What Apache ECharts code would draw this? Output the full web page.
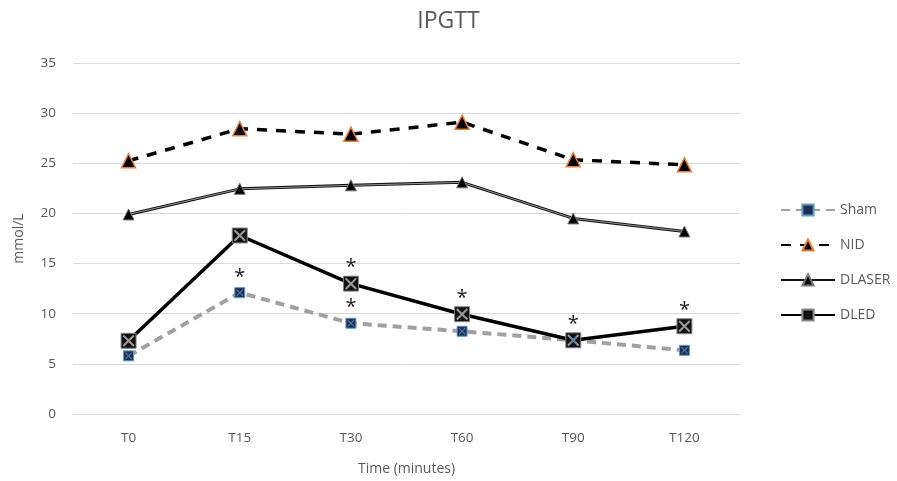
<!DOCTYPE html>
<html><head><meta charset="utf-8">
<script src="https://cdn.jsdelivr.net/npm/echarts@6/dist/echarts.min.js"></script>
<style>html,body{margin:0;padding:0;background:#fff}#c{width:897px;height:481px}</style>
</head><body><div id="c"></div>
<script>
const categories = ['T0','T15','T30','T60','T90','T120'];
const sham   = [5.8, 12.1, 9.05, 8.25, 7.35, 6.35];
const nid    = [25.25, 28.45, 27.9, 29.1, 25.35, 24.85];
const dlaser = [19.9, 22.45, 22.8, 23.1, 19.5, 18.2];
const dled   = [7.3, 17.8, 13.0, 9.95, 7.35, 8.75];
// significance markers (1 = asterisk above the point)
const shamStar = [0, 1, 1, 0, 0, 0];
const dledStar = [0, 0, 1, 1, 1, 1];
const yTicks = {min: 0, max: 35, interval: 5};

const FONT = 'Open Sans';
const TXT = '#595959';
const xPath = 'path://M0,1.2 L1.2,0 L10,8.8 L8.8,10 Z M8.8,0 L10,1.2 L1.2,10 L0,8.8 Z';

function withStars(vals, stars, dist) {
  return vals.map((v, i) => stars[i] ? {value: v, label: {show: true, formatter: '*', position: 'top', distance: dist, fontSize: 20, color: '#222', fontFamily: FONT}} : v);
}

const chart = echarts.init(document.getElementById('c'), null, {renderer: 'canvas'});
chart.setOption({
  animation: false,
  textStyle: {fontFamily: FONT},
  title: {text: 'IPGTT', left: 'center', top: 5, textStyle: {fontSize: 23, fontWeight: 'normal', color: TXT, fontFamily: FONT}},
  grid: {left: 73, right: 157, top: 63, bottom: 66},
  legend: {
    orient: 'vertical', left: 775, top: 198, itemGap: 21, itemWidth: 54, itemHeight: 14,
    data: ['Sham','NID','DLASER','DLED'],
    textStyle: {fontSize: 14, color: TXT, fontFamily: FONT}
  },
  xAxis: {
    type: 'category', data: categories, boundaryGap: true,
    name: 'Time (minutes)', nameLocation: 'middle', nameGap: 48,
    nameTextStyle: {fontSize: 14, color: TXT, fontFamily: FONT},
    axisLine: {lineStyle: {color: '#d9d9d9'}}, axisTick: {show: false},
    axisLabel: {fontSize: 13.5, color: TXT, margin: 17, fontFamily: FONT}
  },
  yAxis: {
    type: 'value', min: yTicks.min, max: yTicks.max, interval: yTicks.interval,
    name: 'mmol/L', nameLocation: 'middle', nameGap: 47, nameRotate: 90,
    nameTextStyle: {fontSize: 14, color: TXT, fontFamily: FONT},
    axisLine: {show: false}, axisTick: {show: false},
    axisLabel: {fontSize: 13.5, color: TXT, margin: 17, fontFamily: FONT},
    splitLine: {lineStyle: {color: '#d9d9d9', width: 1}}
  },
  series: [
    {name: 'Sham', type: 'line', data: withStars(sham, shamStar, 0),
     lineStyle: {color: '#a0a0a0', width: 4, type: [9, 6]},
     symbol: 'rect', symbolSize: 10, showAllSymbol: true,
     itemStyle: {color: '#1f3050', borderColor: '#5b9bd5', borderWidth: 1}, z: 2},
    {name: 'NID', type: 'line', data: nid,
     lineStyle: {color: '#000', width: 3.5, type: [10, 9]},
     symbol: 'triangle', symbolSize: 14,
     itemStyle: {color: '#000', borderColor: '#ed7d31', borderWidth: 1.5}, z: 2},
    {name: 'DLASER', type: 'line', data: dlaser,
     lineStyle: {color: '#111', width: 3},
     symbol: 'triangle', symbolSize: 11,
     itemStyle: {color: '#000', borderColor: '#777', borderWidth: 1}, z: 2},
    {name: 'DLASER_inner', type: 'line', data: dlaser, silent: true,
     lineStyle: {color: '#bbb', width: 0.8}, symbol: 'none', z: 2},
    {name: 'DLED', type: 'line', data: withStars(dled, dledStar, -2),
     lineStyle: {color: '#000', width: 3.5},
     symbol: 'rect', symbolSize: 15,
     itemStyle: {color: '#111', borderColor: '#888', borderWidth: 1}, z: 3},
    {name: 'DLED_x', type: 'line', data: dled, silent: true,
     lineStyle: {width: 0, opacity: 0}, symbol: xPath, symbolSize: 12,
     itemStyle: {color: '#9a9a9a'}, z: 4},
    {name: 'Sham_x', type: 'line', data: sham, silent: true,
     lineStyle: {width: 0, opacity: 0}, symbol: xPath, symbolSize: 7,
     itemStyle: {color: '#4a78b0'}, z: 4}
  ]
});
</script></body></html>
